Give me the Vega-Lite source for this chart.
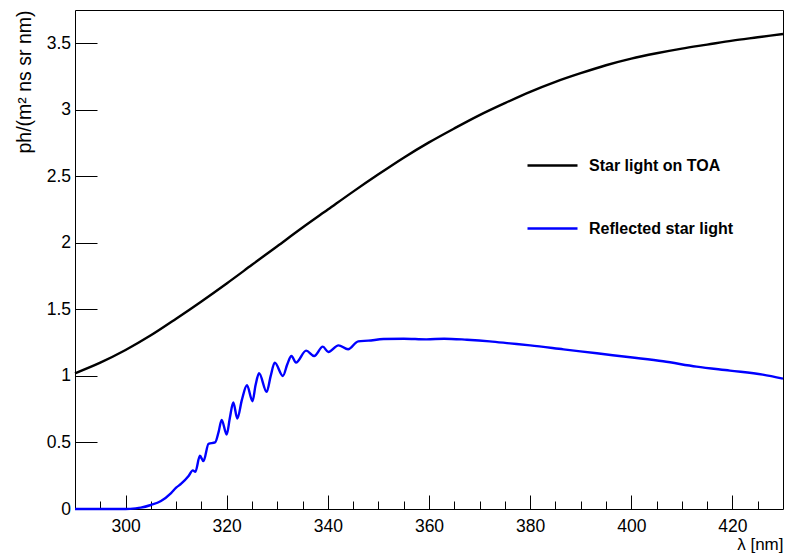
{
  "$schema": "https://vega.github.io/schema/vega-lite/v6.json",
  "width": 708,
  "height": 499,
  "autosize": "none",
  "padding": {"left": 75, "top": 10, "right": 11, "bottom": 48},
  "background": "white",
  "config": {
    "font": "Liberation Sans",
    "view": {"stroke": "black", "strokeWidth": 1}
  },
  "data": {
    "values": [
      {"wavelength": 290, "flux": 1.02, "series": "Star light on TOA"},
      {"wavelength": 295, "flux": 1.10, "series": "Star light on TOA"},
      {"wavelength": 300, "flux": 1.195, "series": "Star light on TOA"},
      {"wavelength": 305, "flux": 1.305, "series": "Star light on TOA"},
      {"wavelength": 310, "flux": 1.43, "series": "Star light on TOA"},
      {"wavelength": 315, "flux": 1.56, "series": "Star light on TOA"},
      {"wavelength": 320, "flux": 1.695, "series": "Star light on TOA"},
      {"wavelength": 325, "flux": 1.835, "series": "Star light on TOA"},
      {"wavelength": 330, "flux": 1.975, "series": "Star light on TOA"},
      {"wavelength": 335, "flux": 2.115, "series": "Star light on TOA"},
      {"wavelength": 340, "flux": 2.25, "series": "Star light on TOA"},
      {"wavelength": 345, "flux": 2.385, "series": "Star light on TOA"},
      {"wavelength": 350, "flux": 2.515, "series": "Star light on TOA"},
      {"wavelength": 355, "flux": 2.64, "series": "Star light on TOA"},
      {"wavelength": 360, "flux": 2.755, "series": "Star light on TOA"},
      {"wavelength": 365, "flux": 2.86, "series": "Star light on TOA"},
      {"wavelength": 370, "flux": 2.96, "series": "Star light on TOA"},
      {"wavelength": 375, "flux": 3.05, "series": "Star light on TOA"},
      {"wavelength": 380, "flux": 3.135, "series": "Star light on TOA"},
      {"wavelength": 385, "flux": 3.21, "series": "Star light on TOA"},
      {"wavelength": 390, "flux": 3.275, "series": "Star light on TOA"},
      {"wavelength": 395, "flux": 3.335, "series": "Star light on TOA"},
      {"wavelength": 400, "flux": 3.385, "series": "Star light on TOA"},
      {"wavelength": 405, "flux": 3.425, "series": "Star light on TOA"},
      {"wavelength": 410, "flux": 3.46, "series": "Star light on TOA"},
      {"wavelength": 415, "flux": 3.49, "series": "Star light on TOA"},
      {"wavelength": 420, "flux": 3.52, "series": "Star light on TOA"},
      {"wavelength": 425, "flux": 3.545, "series": "Star light on TOA"},
      {"wavelength": 430, "flux": 3.57, "series": "Star light on TOA"},
      {"wavelength": 290, "flux": 0, "series": "Reflected star light"},
      {"wavelength": 295, "flux": 0, "series": "Reflected star light"},
      {"wavelength": 300, "flux": 0, "series": "Reflected star light"},
      {"wavelength": 302, "flux": 0.005, "series": "Reflected star light"},
      {"wavelength": 303, "flux": 0.01, "series": "Reflected star light"},
      {"wavelength": 305, "flux": 0.03, "series": "Reflected star light"},
      {"wavelength": 307, "flux": 0.06, "series": "Reflected star light"},
      {"wavelength": 309, "flux": 0.12, "series": "Reflected star light"},
      {"wavelength": 310, "flux": 0.16, "series": "Reflected star light"},
      {"wavelength": 311, "flux": 0.19, "series": "Reflected star light"},
      {"wavelength": 312.5, "flux": 0.25, "series": "Reflected star light"},
      {"wavelength": 313.3, "flux": 0.29, "series": "Reflected star light"},
      {"wavelength": 313.8, "flux": 0.28, "series": "Reflected star light"},
      {"wavelength": 314.7, "flux": 0.40, "series": "Reflected star light"},
      {"wavelength": 315.4, "flux": 0.36, "series": "Reflected star light"},
      {"wavelength": 316.4, "flux": 0.49, "series": "Reflected star light"},
      {"wavelength": 317.7, "flux": 0.50, "series": "Reflected star light"},
      {"wavelength": 318.4, "flux": 0.58, "series": "Reflected star light"},
      {"wavelength": 319.0, "flux": 0.67, "series": "Reflected star light"},
      {"wavelength": 320.0, "flux": 0.56, "series": "Reflected star light"},
      {"wavelength": 320.6, "flux": 0.68, "series": "Reflected star light"},
      {"wavelength": 321.3, "flux": 0.80, "series": "Reflected star light"},
      {"wavelength": 322.1, "flux": 0.68, "series": "Reflected star light"},
      {"wavelength": 323.0, "flux": 0.82, "series": "Reflected star light"},
      {"wavelength": 324.0, "flux": 0.93, "series": "Reflected star light"},
      {"wavelength": 325.1, "flux": 0.81, "series": "Reflected star light"},
      {"wavelength": 325.7, "flux": 0.93, "series": "Reflected star light"},
      {"wavelength": 326.4, "flux": 1.02, "series": "Reflected star light"},
      {"wavelength": 327.9, "flux": 0.88, "series": "Reflected star light"},
      {"wavelength": 328.7, "flux": 1.00, "series": "Reflected star light"},
      {"wavelength": 329.5, "flux": 1.10, "series": "Reflected star light"},
      {"wavelength": 331.1, "flux": 1.00, "series": "Reflected star light"},
      {"wavelength": 332.0, "flux": 1.09, "series": "Reflected star light"},
      {"wavelength": 332.8, "flux": 1.15, "series": "Reflected star light"},
      {"wavelength": 333.7, "flux": 1.10, "series": "Reflected star light"},
      {"wavelength": 335.7, "flux": 1.19, "series": "Reflected star light"},
      {"wavelength": 337.3, "flux": 1.15, "series": "Reflected star light"},
      {"wavelength": 339.0, "flux": 1.22, "series": "Reflected star light"},
      {"wavelength": 340.1, "flux": 1.18, "series": "Reflected star light"},
      {"wavelength": 342.1, "flux": 1.23, "series": "Reflected star light"},
      {"wavelength": 344.0, "flux": 1.20, "series": "Reflected star light"},
      {"wavelength": 346.0, "flux": 1.26, "series": "Reflected star light"},
      {"wavelength": 348.0, "flux": 1.265, "series": "Reflected star light"},
      {"wavelength": 351.0, "flux": 1.277, "series": "Reflected star light"},
      {"wavelength": 355.0, "flux": 1.28, "series": "Reflected star light"},
      {"wavelength": 359.5, "flux": 1.275, "series": "Reflected star light"},
      {"wavelength": 363.0, "flux": 1.28, "series": "Reflected star light"},
      {"wavelength": 367.5, "flux": 1.272, "series": "Reflected star light"},
      {"wavelength": 372.0, "flux": 1.26, "series": "Reflected star light"},
      {"wavelength": 376.0, "flux": 1.245, "series": "Reflected star light"},
      {"wavelength": 380.0, "flux": 1.23, "series": "Reflected star light"},
      {"wavelength": 386.6, "flux": 1.20, "series": "Reflected star light"},
      {"wavelength": 393.2, "flux": 1.17, "series": "Reflected star light"},
      {"wavelength": 399.8, "flux": 1.14, "series": "Reflected star light"},
      {"wavelength": 406.3, "flux": 1.11, "series": "Reflected star light"},
      {"wavelength": 412.9, "flux": 1.07, "series": "Reflected star light"},
      {"wavelength": 419.5, "flux": 1.04, "series": "Reflected star light"},
      {"wavelength": 426.0, "flux": 1.01, "series": "Reflected star light"},
      {"wavelength": 430.0, "flux": 0.98, "series": "Reflected star light"}
    ]
  },
  "mark": {"type": "line", "interpolate": "monotone", "strokeWidth": 2.4},
  "encoding": {
    "x": {
      "field": "wavelength",
      "type": "quantitative",
      "scale": {"domain": [290, 430], "nice": false, "zero": false},
      "axis": {
        "values": [295, 300, 305, 310, 315, 320, 325, 330, 335, 340, 345, 350, 355, 360, 365, 370, 375, 380, 385, 390, 395, 400, 405, 410, 415, 420, 425],
        "tickSize": {"condition": {"test": "datum.value % 20 === 0", "value": -14}, "value": -8},
        "labelExpr": "datum.value % 20 === 0 ? datum.label : ''",
        "domain": false,
        "grid": false,
        "tickColor": "black",
        "labelFontSize": 17.5,
        "labelColor": "black",
        "labelPadding": 22,
        "title": "λ [nm]",
        "titleAnchor": "end",
        "titleFontWeight": "normal",
        "titleFontSize": 17,
        "titleColor": "black",
        "titlePadding": 2
      }
    },
    "y": {
      "field": "flux",
      "type": "quantitative",
      "scale": {"domain": [0, 3.75], "nice": false},
      "axis": {
        "values": [0, 0.5, 1, 1.5, 2, 2.5, 3, 3.5],
        "format": "~g",
        "tickSize": -22,
        "domain": false,
        "grid": false,
        "tickColor": "black",
        "labelFontSize": 17.5,
        "labelColor": "black",
        "labelPadding": 26.5,
        "title": "ph/(m² ns sr nm)",
        "titleAnchor": "end",
        "titleFontWeight": "normal",
        "titleFontSize": 19.5,
        "titleColor": "black",
        "titlePadding": 12
      }
    },
    "color": {
      "field": "series",
      "type": "nominal",
      "scale": {"domain": ["Star light on TOA", "Reflected star light"], "range": ["#000000", "#0000ff"]},
      "legend": {
        "orient": "none",
        "legendX": 451,
        "legendY": 129,
        "title": null,
        "symbolType": "stroke",
        "symbolSize": 2500,
        "symbolStrokeWidth": 2.5,
        "labelFontSize": 16,
        "labelFontWeight": "bold",
        "labelColor": "black",
        "labelOffset": 10,
        "rowPadding": 28
      }
    }
  }
}
